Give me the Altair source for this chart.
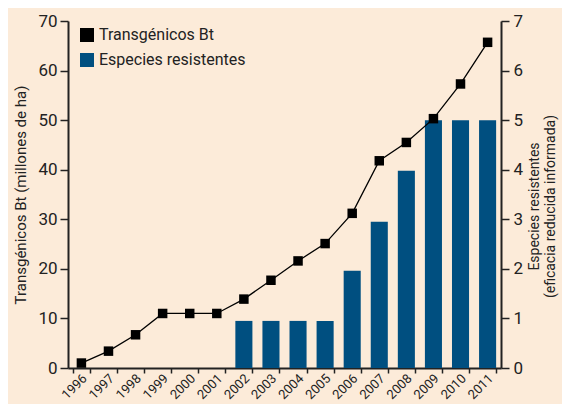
import altair as alt
import pandas as pd

years = [str(y) for y in range(1996, 2012)]
bt_area = [1.0, 3.4, 6.7, 11.0, 11.0, 11.0, 13.9, 17.7, 21.6, 25.1, 31.2, 41.8, 45.5, 50.3, 57.3, 65.7]
bar_years = [str(y) for y in range(2002, 2012)]
especies = [0.95, 0.95, 0.95, 0.95, 1.96, 2.95, 3.98, 5.0, 5.0, 5.0]

s1 = "Transgénicos Bt"
s2 = "Especies resistentes"

df_line = pd.DataFrame({"year": years, "value": bt_area, "serie": s1})
df_bar = pd.DataFrame({"year": bar_years, "value": especies, "serie": s2})

FONT = "Roboto, sans-serif"
BG = "#fcebd9"
BLUE = "#004f80"
INK = "#222222"

xenc = alt.X(
    "year:N",
    scale=alt.Scale(domain=years, paddingInner=0.37, paddingOuter=0.18),
    axis=alt.Axis(
        title=None, labelAngle=-45, labelAlign="right", labelBaseline="middle",
        tickBand="extent", labelFontSize=13, labelPadding=3, tickSize=5,
        domainWidth=2, tickWidth=1.5, labelOffset=3,
    ),
)

color = alt.Color(
    "serie:N",
    scale=alt.Scale(domain=[s1, s2], range=["#000000", BLUE]),
    legend=alt.Legend(
        title=None, orient="none", legendX=11, legendY=6, symbolType="square",
        symbolSize=196, labelFontSize=16, rowPadding=9, symbolStrokeWidth=0,
        labelFont=FONT, labelLimit=0, symbolOpacity=1,
    ),
)

y_left = alt.Y(
    "value:Q",
    scale=alt.Scale(domain=[0, 70]),
    axis=alt.Axis(
        orient="left", values=list(range(0, 71, 10)), tickSize=8,
        title="Transgénicos Bt (millones de ha)", titleFontSize=15,
        titleFontWeight="normal", labelFontSize=17, titlePadding=9,
        domainWidth=2, tickWidth=1.5, labelPadding=3,
    ),
)

bars = alt.Chart(df_bar).mark_bar(color=BLUE).encode(
    x=xenc,
    y=alt.Y(
        "value:Q",
        scale=alt.Scale(domain=[0, 7]),
        axis=alt.Axis(
            orient="right", values=list(range(0, 8)), tickSize=8,
            title=["Especies resistentes", "(eficacia reducida informada)"],
            titleAngle=270, titleFontSize=14, titleFontWeight="normal",
            labelFontSize=17, titlePadding=3, domainWidth=2, tickWidth=1.5,
            titleBaseline="bottom", labelPadding=4, titleY=185,
            titleLineHeight=16,
        ),
    ),
    color=color,
)

line = alt.Chart(df_line).mark_line(color="black", strokeWidth=1.3).encode(
    x=xenc,
    y=y_left,
)

points = alt.Chart(df_line).mark_point(
    shape="square", filled=True, size=90, opacity=1
).encode(
    x=xenc,
    y=y_left,
    color=color,
)

left = alt.layer(line, points)

chart = (
    alt.layer(bars, left)
    .resolve_scale(y="independent")
    .properties(
        width=433, height=347, background=BG,
        autosize=alt.AutoSizeParams(type="none"),
        padding={"left": 60, "top": 13, "right": 61, "bottom": 36},
    )
    .configure_view(stroke=None)
    .configure_axis(
        labelFont=FONT, titleFont=FONT, domainColor=INK,
        tickColor=INK, labelColor=INK, titleColor=INK,
        grid=False,
    )
    .configure_legend(labelFont=FONT, labelColor=INK)
)

chart.save("out.html", embed_options={"renderer": "svg", "actions": False})
